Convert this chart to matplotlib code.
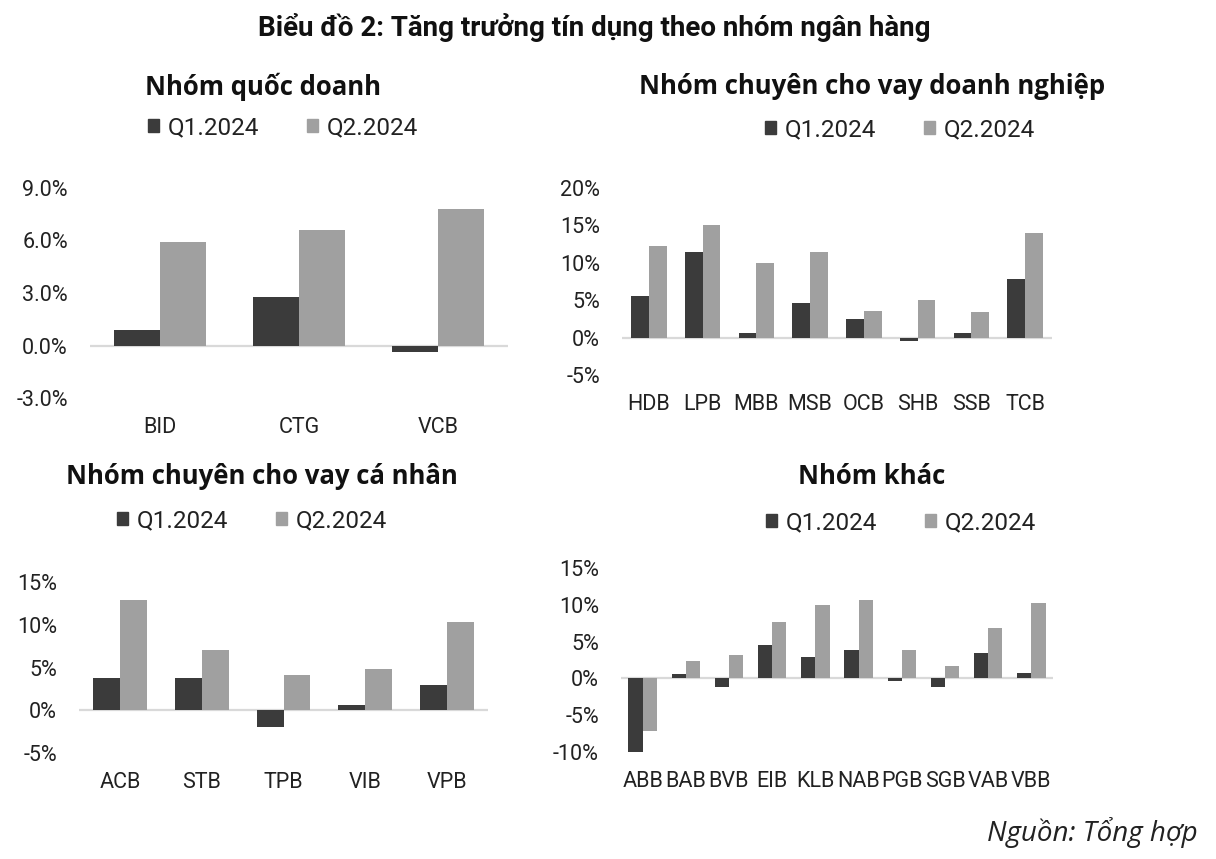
import matplotlib
matplotlib.use("Agg")
import matplotlib.pyplot as plt
from matplotlib.patches import Patch
from matplotlib.ticker import FuncFormatter
import numpy as np

# ---- data ----
series_labels = ["Q1.2024", "Q2.2024"]

qd_banks = ["BID", "CTG", "VCB"]
qd_q1 = [0.9, 2.8, -0.35]
qd_q2 = [5.9, 6.6, 7.8]

dn_banks = ["HDB", "LPB", "MBB", "MSB", "OCB", "SHB", "SSB", "TCB"]
dn_q1 = [5.6, 11.5, 0.6, 4.6, 2.5, -0.4, 0.6, 7.8]
dn_q2 = [12.3, 15.1, 10.0, 11.5, 3.5, 5.0, 3.4, 14.0]

cn_banks = ["ACB", "STB", "TPB", "VIB", "VPB"]
cn_q1 = [3.75, 3.75, -2.0, 0.6, 3.0]
cn_q2 = [12.9, 7.0, 4.1, 4.85, 10.35]

k_banks = ["ABB", "BAB", "BVB", "EIB", "KLB", "NAB", "PGB", "SGB", "VAB", "VBB"]
k_q1 = [-10.1, 0.6, -1.2, 4.6, 2.95, 3.8, -0.35, -1.2, 3.4, 0.8]
k_q2 = [-7.2, 2.3, 3.2, 7.6, 10.0, 10.6, 3.8, 1.7, 6.8, 10.2]

main_title = "Biểu đồ 2: Tăng trưởng tín dụng theo nhóm ngân hàng"
source_text = "Nguồn: Tổng hợp"

# ---- style ----
C1 = "#3b3b3b"
C2 = "#a0a0a0"
ZERO = "#d9d9d9"
TICK_FONT = "Roboto"
TITLE_FONT = ["Open Sans", "DejaVu Sans"]

W, H = 1216, 859
fig = plt.figure(figsize=(W / 100, H / 100), dpi=100)


def make_ax(x0, x1, ytop, ybot):
    return fig.add_axes([x0 / W, 1 - ybot / H, (x1 - x0) / W, (ybot - ytop) / H])


panels = [
    dict(title="Nhóm quốc doanh", cats=qd_banks, q1=qd_q1, q2=qd_q2,
         box=(90, 508, 188, 398), ylim=(-3, 9), ticks=[-3, 0, 3, 6, 9], fmt="{:.1f}%",
         title_xy=(263, 87), leg_xy=(283, 128)),
    dict(title="Nhóm chuyên cho vay doanh nghiệp", cats=dn_banks, q1=dn_q1, q2=dn_q2,
         box=(622, 1052, 188, 375), ylim=(-5, 20), ticks=[-5, 0, 5, 10, 15, 20], fmt="{:.0f}%",
         title_xy=(872, 87), leg_xy=(900, 130)),
    dict(title="Nhóm chuyên cho vay cá nhân", cats=cn_banks, q1=cn_q1, q2=cn_q2,
         box=(79, 488, 582, 753), ylim=(-5, 15), ticks=[-5, 0, 5, 10, 15], fmt="{:.0f}%",
         title_xy=(262, 477), leg_xy=(252, 521)),
    dict(title="Nhóm khác", cats=k_banks, q1=k_q1, q2=k_q2,
         box=(621, 1053, 568, 752), ylim=(-10, 15), ticks=[-10, -5, 0, 5, 10, 15], fmt="{:.0f}%",
         title_xy=(872, 477), leg_xy=(901, 523)),
]

for p in panels:
    ax = make_ax(*p["box"])
    x = np.arange(len(p["cats"]))
    w = 0.33
    ax.bar(x - w / 2, p["q1"], width=w, color=C1, zorder=3, linewidth=0)
    ax.bar(x + w / 2, p["q2"], width=w, color=C2, zorder=3, linewidth=0)
    ax.axhline(0, color=ZERO, lw=1.6, zorder=2)
    ax.set_xlim(-0.5, len(p["cats"]) - 0.5)
    ax.set_ylim(*p["ylim"])
    ax.set_yticks(p["ticks"])
    fmt = p["fmt"]
    ax.yaxis.set_major_formatter(FuncFormatter(lambda v, pos, f=fmt: f.format(v)))
    ax.set_xticks(x)
    ax.set_xticklabels(p["cats"])
    for s in ax.spines.values():
        s.set_visible(False)
    ax.tick_params(axis="both", length=0, labelsize=15.5, colors="#222222")
    ax.tick_params(axis="y", pad=16)
    ax.tick_params(axis="x", pad=14)
    for lab in ax.get_xticklabels() + ax.get_yticklabels():
        lab.set_fontfamily(TICK_FONT)
    ax.patch.set_alpha(0)

    tx, ty = p["title_xy"]
    fig.text(tx / W, 1 - ty / H, p["title"], ha="center", va="center",
             fontsize=18.5, fontweight="bold", family=TITLE_FONT, color="#111111")
    lx, ly = p["leg_xy"]
    handles = [Patch(color=C1), Patch(color=C2)]
    leg = fig.legend(handles, series_labels, loc="center",
                     bbox_to_anchor=(lx / W, 1 - ly / H), ncol=2, frameon=False,
                     handlelength=0.45, handleheight=0.45, handletextpad=0.35,
                     columnspacing=2.0, prop={"family": TICK_FONT, "size": 17.5})
    for t in leg.get_texts():
        t.set_color("#222222")

fig.text(594 / W, 1 - 27 / H, main_title, ha="center", va="center",
         fontsize=20, fontweight="bold", family=["Roboto", "DejaVu Sans"], color="#111111")
fig.text(1198 / W, 1 - 833 / H, source_text, ha="right", va="center",
         fontsize=20, style="italic", family=["Open Sans", "DejaVu Sans"], color="#222222")

fig.savefig("out.png", dpi=100, facecolor="white")
